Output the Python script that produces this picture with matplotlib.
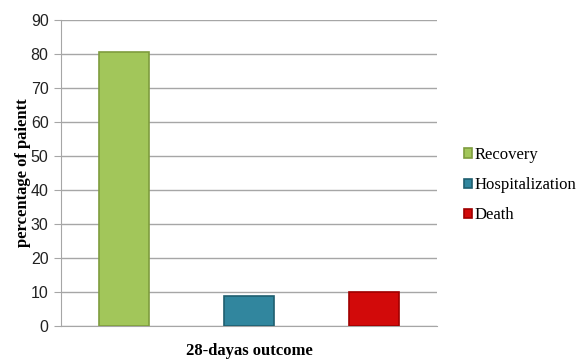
import matplotlib
matplotlib.use('Agg')
import matplotlib.pyplot as plt

# Data
categories = ['Recovery', 'Hospitalization', 'Death']
values = [80.6, 8.8, 10.0]
colors = ['#a2c65a', '#31869e', '#d20a0a']
edges = ['#7e9c3e', '#1f5f70', '#a00000']
yticks = [0, 10, 20, 30, 40, 50, 60, 70, 80, 90]

fig = plt.figure(figsize=(5.79, 3.6), dpi=100)
ax = fig.add_axes([0.1054, 0.0944, 0.6493, 0.8500])

for i, (cat, v) in enumerate(zip(categories, values)):
    ax.bar(i, v, width=0.4, color=colors[i], edgecolor=edges[i],
           linewidth=1.2, label=cat, zorder=3)

ax.set_xlim(-0.5, 2.5)
ax.set_ylim(0, 90)
ax.set_yticks(yticks)
ax.set_xticks([])
ax.grid(axis='y', color='#a6a6a6', linewidth=1, zorder=0)
for s in ['top', 'right']:
    ax.spines[s].set_visible(False)
ax.spines['left'].set_color('#a6a6a6')
ax.spines['bottom'].set_color('#a6a6a6')
ax.tick_params(axis='y', length=5, color='#a6a6a6', labelsize=11.5,
               labelcolor='#222222', pad=4)
for lab in ax.get_yticklabels():
    lab.set_family('Liberation Sans')

ax.set_ylabel('percentage of paientt', family='Liberation Serif',
              fontweight='bold', fontsize=12, labelpad=0)
ax.set_xlabel('28-dayas outcome', family='Liberation Serif',
              fontweight='bold', fontsize=12, labelpad=12)

ax.legend(loc='center left', bbox_to_anchor=(1.0, 0.46), frameon=False,
          prop={'family': 'Liberation Serif', 'size': 12},
          handlelength=0.5, handleheight=0.5, handletextpad=0.15,
          labelspacing=0.85, borderaxespad=1.2)

plt.savefig('out.png', dpi=100)
